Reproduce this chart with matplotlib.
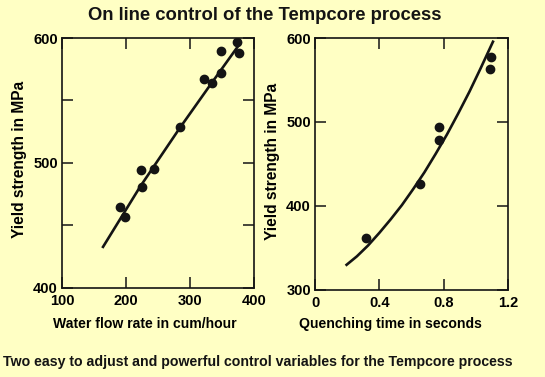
import matplotlib
matplotlib.use("Agg")
import matplotlib.pyplot as plt
from matplotlib.ticker import MultipleLocator

plt.rcParams["font.family"] = ["Liberation Sans", "DejaVu Sans"]
plt.rcParams["font.weight"] = "bold"

BG = "#ffffc4"
INK = "#141414"

# left panel: yield strength vs water flow rate
flow_rate = [191, 199, 224, 225, 243, 285, 322, 335, 348, 348, 374, 377]
flow_ys = [465, 457, 494, 481, 495, 529, 567, 564, 572, 590, 597, 588]
flow_line_x = [163, 222, 284, 331, 380]
flow_line_y = [432, 481, 528, 562, 597]

# right panel: yield strength vs quenching time
quench_time = [0.315, 0.655, 0.77, 0.77, 1.095, 1.09]
quench_ys = [362, 426, 494, 479, 577, 563]
quench_line_x = [0.19, 0.26, 0.33, 0.40, 0.47, 0.54, 0.61, 0.68,
                 0.75, 0.82, 0.89, 0.96, 1.03, 1.11]
quench_line_y = [329, 340, 353, 368, 384, 401, 420, 440,
                 462, 485, 510, 536, 564, 597]

title = "On line control of the Tempcore process"
caption = "Two easy to adjust and powerful control variables for the Tempcore process"
ylabel = "Yield strength in MPa"

fig = plt.figure(figsize=(5.45, 3.77), dpi=100, facecolor=BG)
ax1 = fig.add_axes([0.1138, 0.2361, 0.3523, 0.6631])
ax2 = fig.add_axes([0.578, 0.2308, 0.3541, 0.6684])


def style_axes(ax):
    ax.set_facecolor(BG)
    for sp in ax.spines.values():
        sp.set_color(INK)
        sp.set_linewidth(1.2)
    ax.tick_params(which="both", direction="in", top=True, right=True,
                   length=8, width=1.1, color=INK, labelsize=10.5)
    ax.tick_params(axis="x", pad=4.5)
    ax.tick_params(axis="y", pad=3)


ax1.plot(flow_line_x, flow_line_y, color=INK, lw=1.9, solid_capstyle="butt")
ax1.plot(flow_rate, flow_ys, "o", color=INK, ms=6)
ax1.set_xlim(100, 400)
ax1.set_ylim(400, 600)
ax1.xaxis.set_major_locator(MultipleLocator(100))
ax1.yaxis.set_major_locator(MultipleLocator(100))
ax1.yaxis.set_minor_locator(MultipleLocator(50))
style_axes(ax1)
ax1.set_xlabel("Water flow rate in cum/hour", fontsize=10.1, fontweight="bold")
ax1.xaxis.set_label_coords(0.43, -0.116)
ax1.set_ylabel(ylabel, fontsize=11.2, fontweight="bold")
ax1.yaxis.set_label_coords(-0.182, 0.516)

ax2.plot(quench_line_x, quench_line_y, color=INK, lw=1.9, solid_capstyle="butt")
ax2.plot(quench_time, quench_ys, "o", color=INK, ms=6)
ax2.set_xlim(0, 1.2)
ax2.set_ylim(300, 600)
ax2.set_xticks([0, 0.4, 0.8, 1.2])
ax2.set_xticklabels(["0", "0.4", "0.8", "1.2"])
ax2.yaxis.set_major_locator(MultipleLocator(100))
style_axes(ax2)
ax2.set_xlabel("Quenching time in seconds", fontsize=10.1, fontweight="bold")
ax2.xaxis.set_label_coords(0.389, -0.107)
ax2.set_ylabel(ylabel, fontsize=11.2, fontweight="bold")
ax2.yaxis.set_label_coords(-0.181, 0.51)

fig.text(0.485, 0.960, title, ha="center", va="center",
         fontsize=13.3, fontweight="bold", color=INK)
fig.text(0.473, 0.040, caption, ha="center", va="center",
         fontsize=10.2, fontweight="bold", color=INK)

fig.savefig("out.png", dpi=100, facecolor=BG)
